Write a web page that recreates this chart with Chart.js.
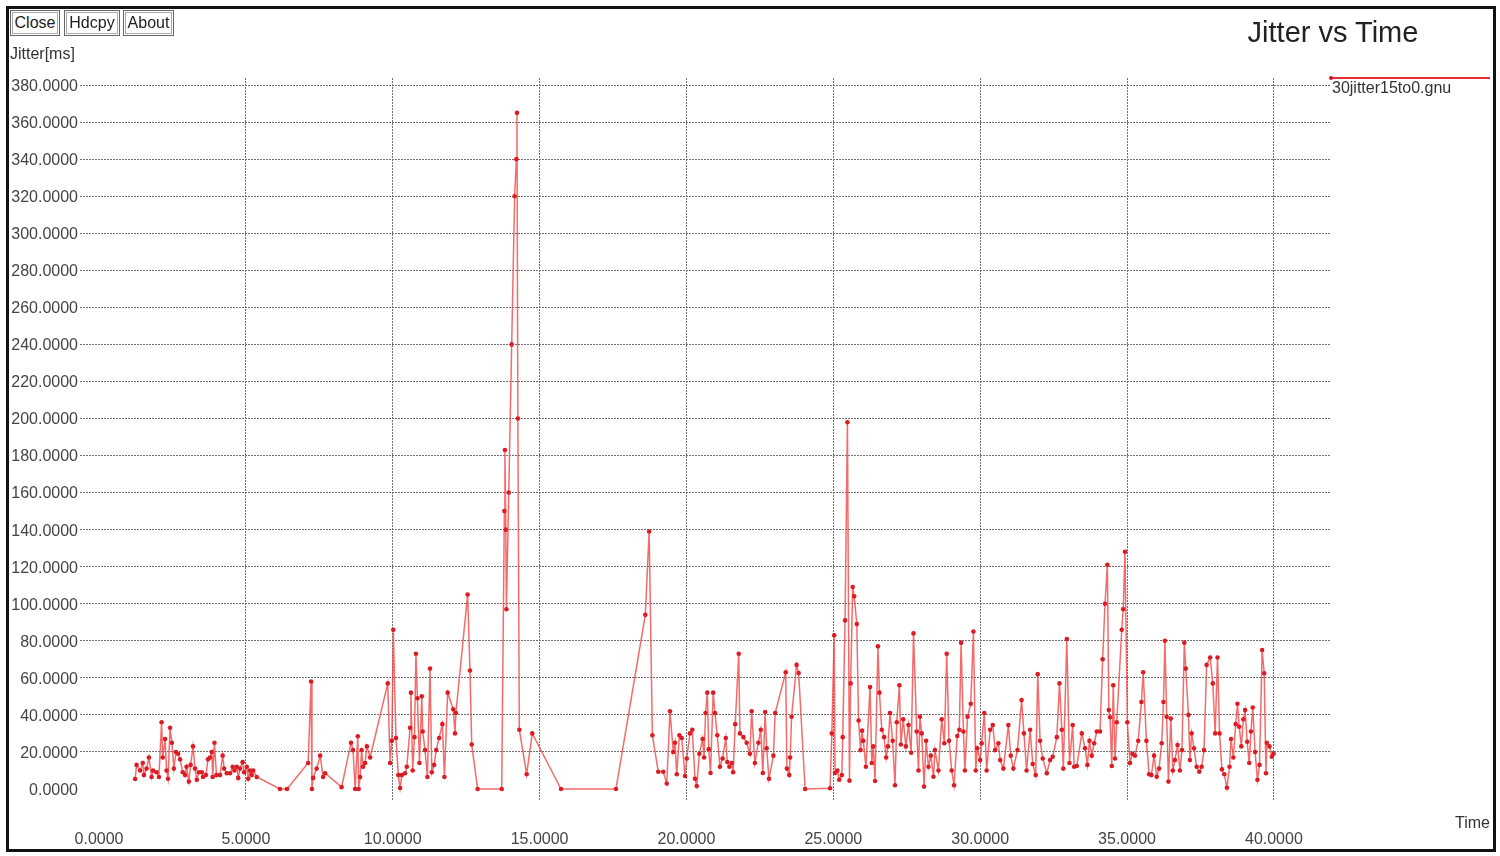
<!DOCTYPE html>
<html>
<head>
<meta charset="utf-8">
<script src="https://cdn.jsdelivr.net/npm/chart.js@4.4.1/dist/chart.umd.min.js"></script>
<style>
  html, body { margin: 0; padding: 0; background: #fff; }
  #wrap { position: relative; width: 1500px; height: 856px; font-family: "Liberation Sans", Arial, sans-serif; color: #333; }
  #frame { position: absolute; left: 6px; top: 6px; width: 1484px; height: 840px; border: 3px solid #111; pointer-events: none; }
  canvas { position: absolute; left: 0; top: 0; }
  .btn { position: absolute; top: 10px; height: 24px; border: 1px solid #666; outline: 1px solid #aaa; outline-offset: -3px; font-size: 16px; line-height: 24px; text-align: center; color: #222; background: #fff; }
  #ylab { position: absolute; left: 10px; top: 45px; font-size: 16px; }
  #title { position: absolute; left: 1233px; width: 200px; top: 16px; text-align: center; font-size: 29px; color: #222; }
  #xlab { position: absolute; left: 1455px; top: 814px; font-size: 16px; }
  #legline { position: absolute; left: 1331px; top: 77px; width: 159px; height: 2px; background: #e8302f; }
  #legdot { position: absolute; left: 1329px; top: 76px; width: 4px; height: 4px; border-radius: 2px; background: #d01820; }
  #legtxt { position: absolute; left: 1332px; top: 79px; font-size: 16px; }
</style>
</head>
<body>
<div id="wrap">
  <canvas id="myChart" width="1500" height="856"></canvas>
  <div class="btn" style="left:10px;width:48px;">Close</div>
  <div class="btn" style="left:64px;width:54px;">Hdcpy</div>
  <div class="btn" style="left:123px;width:49px;">About</div>
  <div id="ylab">Jitter[ms]</div>
  <div id="title">Jitter vs Time</div>
  <div id="xlab">Time</div>
  <div id="legline"></div>
  <div id="legdot"></div>
  <div id="legtxt">30jitter15to0.gnu</div>
  <div id="frame"></div>
</div>
<script>
// tick values
var xTicks = [0, 5, 10, 15, 20, 25, 30, 35, 40];
var yTicks = [0, 20, 40, 60, 80, 100, 120, 140, 160, 180, 200, 220, 240, 260, 280, 300, 320, 340, 360, 380];

// series 30jitter15to0.gnu
var timeValues = [
  1.23, 1.28, 1.40, 1.49, 1.53, 1.62, 1.70, 1.79, 1.84, 1.96, 2.04, 2.13, 2.17, 2.25, 2.30, 2.35, 2.42, 2.48, 2.55, 2.62,
  2.69, 2.76, 2.85, 2.93, 2.98, 3.06, 3.12, 3.20, 3.27, 3.33, 3.40, 3.50, 3.54, 3.64, 3.71, 3.78, 3.84, 3.87, 3.93, 4.00,
  4.12, 4.21, 4.26, 4.35, 4.46, 4.55, 4.61, 4.69, 4.74, 4.80, 4.89, 4.94, 5.03, 5.08, 5.14, 5.20, 5.25, 5.37,
  6.16, 6.40, 7.12, 7.22, 7.25, 7.29, 7.41, 7.53, 7.63, 7.70, 8.26, 8.58, 8.65, 8.72, 8.81, 8.84, 8.89, 8.94, 8.99, 9.06,
  9.12, 9.23, 9.83, 9.91, 9.97, 10.02, 10.11, 10.19, 10.25, 10.31, 10.42, 10.48, 10.59, 10.62, 10.68, 10.74, 10.79, 10.84,
  10.91, 10.99, 11.02, 11.10, 11.18, 11.27, 11.33, 11.41, 11.48, 11.58, 11.69, 11.76, 11.87, 12.06, 12.12, 12.15, 12.55,
  12.63, 12.69, 12.89, 13.71, 13.80, 13.82, 13.85, 13.87, 13.95, 14.05, 14.15, 14.21, 14.23, 14.26, 14.31, 14.56, 14.75,
  15.73, 17.60, 18.60, 18.73, 18.84, 19.04, 19.21, 19.33, 19.44, 19.55, 19.61, 19.67, 19.76, 19.84, 19.95, 20.01, 20.12,
  20.20, 20.29, 20.35, 20.44, 20.55, 20.60, 20.65, 20.71, 20.76, 20.82, 20.91, 20.97, 21.05, 21.14, 21.23, 21.34, 21.39,
  21.46, 21.54, 21.59, 21.66, 21.78, 21.82, 21.94, 22.05, 22.16, 22.22, 22.33, 22.45, 22.53, 22.60, 22.68, 22.73, 22.81,
  22.96, 23.02, 23.38, 23.42, 23.50, 23.53, 23.58, 23.75, 23.82, 24.04, 24.89,
  24.95, 25.03, 25.06, 25.14, 25.20, 25.29, 25.32, 25.40, 25.48, 25.55, 25.59, 25.66, 25.71, 25.80, 25.86, 25.93, 25.98,
  26.02, 26.11, 26.25, 26.31, 26.36, 26.42, 26.52, 26.57, 26.65, 26.73, 26.80, 26.86, 26.93, 27.02, 27.10, 27.16, 27.25,
  27.30, 27.38, 27.47, 27.56, 27.65, 27.73, 27.84, 27.90, 27.95, 28.01, 28.09, 28.16, 28.24, 28.32, 28.41, 28.46, 28.58,
  28.69, 28.78, 28.86, 28.94, 29.03, 29.11, 29.22, 29.29, 29.35, 29.43, 29.48, 29.57, 29.68, 29.77, 29.85, 29.90, 30.00,
  30.05, 30.14, 30.22, 30.34, 30.43, 30.51, 30.62, 30.68, 30.79, 30.96, 31.04, 31.13, 31.27, 31.41, 31.49, 31.58, 31.70,
  31.79, 31.89, 31.96, 32.04, 32.13, 32.27, 32.38, 32.47, 32.61, 32.70, 32.78, 32.83, 32.95, 33.04, 33.15, 33.20, 33.29,
  33.46, 33.57, 33.65, 33.72, 33.80, 33.88, 33.97,
  34.08, 34.17, 34.25, 34.33, 34.38, 34.42, 34.48, 34.53, 34.59, 34.65, 34.82, 34.87, 34.93, 35.01, 35.10, 35.18, 35.27,
  35.38, 35.49, 35.55, 35.66, 35.75, 35.83, 35.92, 36.01, 36.09, 36.18, 36.24, 36.29, 36.35, 36.41, 36.49, 36.56, 36.63,
  36.72, 36.80, 36.87, 36.95, 37.00, 37.09, 37.14, 37.20, 37.28, 37.37, 37.46, 37.54, 37.62, 37.71, 37.83, 37.92, 38.00,
  38.08, 38.15, 38.23, 38.31, 38.40, 38.49, 38.54, 38.62, 38.70, 38.76, 38.82, 38.89, 38.96, 39.02, 39.09, 39.16, 39.22,
  39.28, 39.36, 39.44, 39.51, 39.60, 39.67, 39.73, 39.76, 39.85, 39.93, 39.99
];
var jitterValues = [
  5.4, 13, 10, 14, 7.5, 11, 17, 6.5, 10, 9, 6.5, 36, 17, 27, 10, 5.5, 33, 25, 11, 20,
  19, 16, 9, 7.5, 12, 4, 13, 23, 11, 5, 9, 9, 6.5, 7.5, 16, 17, 20, 6.5, 25, 7.5,
  7.5, 18, 11, 8.5, 8.5, 12, 10, 12, 6, 11, 14.5, 9, 12, 5.5, 10, 7.5, 10, 6.5,
  0, 0, 14, 58, 0, 6, 11, 18, 6.5, 8.5, 1, 25, 21, 0, 28.5, 0, 6.5, 21, 12, 14,
  23, 17, 57, 14, 26, 86, 27.5, 7.5, 0.5, 7.5, 8.5, 12, 33, 52, 10, 28, 73, 49,
  14, 50, 31, 21, 6.5, 65, 9, 13, 21, 27.5, 35, 6.5, 52, 43, 30, 41, 105,
  64, 24, 0, 0, 150, 183, 140, 97, 160, 240, 320, 340, 365, 200, 32, 8, 30,
  0, 0, 94, 139, 29, 9.3, 9.3, 3, 42, 20, 25, 8, 29, 27.5, 7, 16.5, 30,
  32, 5.5, 1.6, 19, 27, 17, 41, 52, 21.5, 8.6, 52, 41, 29, 12, 16.5, 27.5, 14.6,
  12, 14, 9, 35, 73, 30, 28, 25, 19, 42, 14, 25, 32, 8.6, 41.5, 22, 5.5,
  18, 41, 63, 11, 7.5, 17, 39, 67, 62.6, 0, 0.4,
  30, 83, 8.6, 10, 5, 7.5, 28, 91, 198, 4.5, 57, 109, 104, 89, 37, 21, 31.5,
  26, 12, 55, 14, 23, 4.3, 77, 52, 32, 28, 17, 23, 41, 26, 2, 36, 56,
  24, 37.6, 23, 34.5, 19.6, 84, 31, 10, 39, 30, 1.3, 26, 12, 18, 6.6, 21, 10,
  37.6, 24.7, 73, 26, 10, 2, 28.6, 32, 79, 31, 10, 39, 46, 85, 10, 22, 15.6,
  24.7, 41, 10, 32, 34.5, 21, 24.7, 15.6, 11, 34.5, 18, 11, 21, 48, 30, 10, 32,
  13.5, 7.5, 62, 26, 16.5, 8.5, 15.6, 17.4, 28, 57, 32, 11, 81, 14, 34.5, 12, 12.4,
  30, 22, 13, 26, 18, 24.7, 31,
  31, 70, 100, 121, 42.6, 38.7, 12.4, 56, 16.5, 36, 86, 97, 128, 36, 14, 19, 18,
  26, 47, 63, 26, 8, 7.5, 18, 6.6, 11, 24.7, 47, 80, 39, 4, 38, 10, 15.6,
  23.7, 10, 21, 79, 65, 40, 15.6, 30, 22, 12, 9.3, 12, 21, 67, 71, 57, 30,
  71, 30, 10.6, 8, 0.7, 12, 27, 17, 35, 46, 33.6, 23, 37.6, 42.6, 25.5, 14, 31,
  44, 20, 5, 13, 75, 62.5, 8.5, 25, 23, 17.4, 19
];

var points = timeValues.map(function (t, i) { return { x: t, y: jitterValues[i] }; });

function gridColor(ctx) {
  return (ctx.tick && ctx.tick.value === 0) ? 'rgba(0,0,0,0)' : '#707070';
}

new Chart(document.getElementById('myChart'), {
  type: 'scatter',
  data: {
    datasets: [{
      label: '30jitter15to0.gnu',
      data: points,
      showLine: true,
      borderColor: 'rgba(240,70,70,0.8)',
      borderWidth: 1.5,
      pointRadius: 2.3,
      pointBackgroundColor: '#dc1c24',
      pointBorderWidth: 0,
      tension: 0
    }]
  },
  options: {
    responsive: false,
    animation: false,
    layout: { padding: { left: 0, top: 78, right: 170, bottom: 0 } },
    plugins: { legend: { display: false }, title: { display: false }, tooltip: { enabled: false } },
    scales: {
      x: {
        type: 'linear',
        min: -0.647,
        max: 41.91,
        afterBuildTicks: function (scale) { scale.ticks = xTicks.map(function (v) { return { value: v }; }); },
        afterFit: function (scale) { scale.height = 56; },
        grid: { color: gridColor, lineWidth: 1, drawTicks: false },
        border: { display: false, dash: [2, 1] },
        ticks: {
          padding: 30,
          color: '#444',
          font: { family: 'Liberation Sans', size: 16 },
          maxRotation: 0,
          callback: function (v) { return Number(v).toFixed(4); }
        }
      },
      y: {
        type: 'linear',
        min: -5.94,
        max: 383.8,
        afterBuildTicks: function (scale) { scale.ticks = yTicks.map(function (v) { return { value: v }; }); },
        afterFit: function (scale) { scale.width = 80; },
        grid: { color: gridColor, lineWidth: 1, drawTicks: false },
        border: { display: false, dash: [2, 1] },
        ticks: {
          padding: 2,
          labelOffset: 1.5,
          color: '#444',
          font: { family: 'Liberation Sans', size: 16 },
          callback: function (v) { return Number(v).toFixed(4); }
        }
      }
    }
  }
});
</script>
</body>
</html>
